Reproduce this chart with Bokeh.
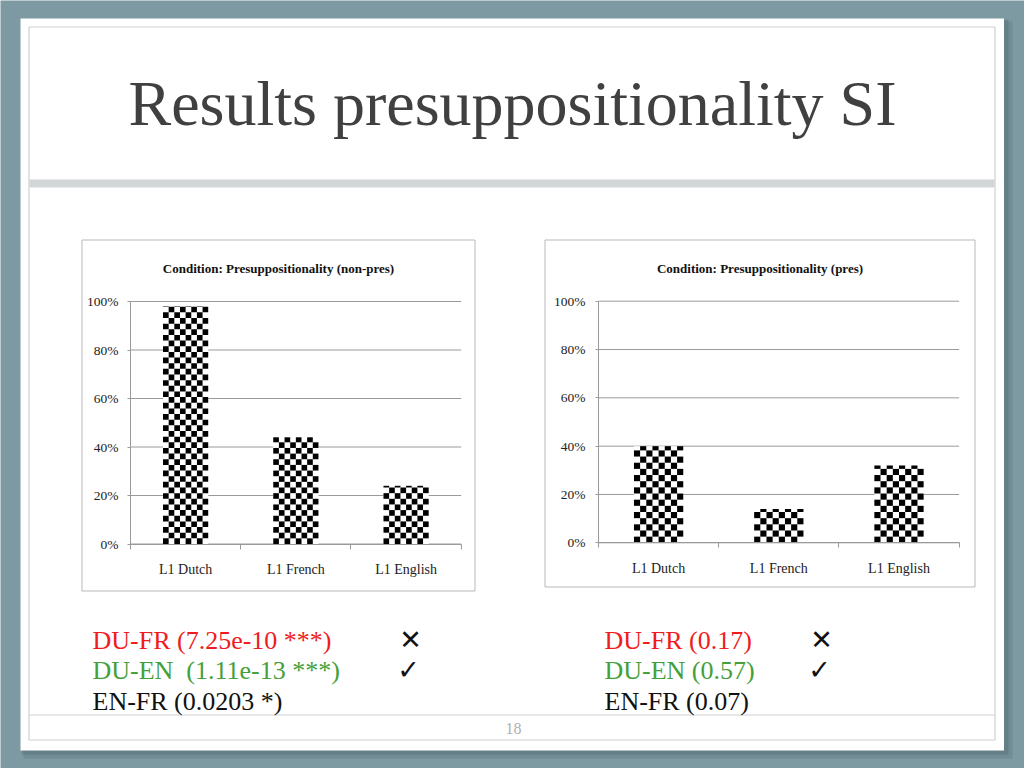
import math
from bokeh.plotting import figure
from bokeh.models import Range1d, LinearAxis, FixedTicker, NumeralTickFormatter
from bokeh.core.properties import value
from bokeh.embed import file_html
from bokeh.resources import INLINE

# ---------------- data ----------------
categories = ["L1 Dutch", "L1 French", "L1 English"]
non_pres = [0.98, 0.44, 0.24]
pres = [0.40, 0.14, 0.32]
y_ticks = [0.0, 0.2, 0.4, 0.6, 0.8, 1.0]
chart_titles = ["Condition: Presuppositionality (non-pres)", "Condition: Presuppositionality (pres)"]
slide_title = "Results presuppositionality SI"
left_notes = ["DU-FR (7.25e-10 ***)", "DU-EN\u00a0\u00a0(1.11e-13 ***)", "EN-FR (0.0203 *)"]
right_notes = ["DU-FR (0.17)", "DU-EN (0.57)", "EN-FR (0.07)"]
note_colors = ["#ee1c1c", "#46a03a", "#111111"]
marks = ["\u2715", "\u2713"]
page_number = "18"

# ---------------- styles ----------------
BG = "#7d99a1"
SERIF_NAME = "Liberation Serif"
SERIF = value(SERIF_NAME)
GRID = "#9a9a9a"

W, H = 1024, 768
OX, OY = 0, 0

p = figure(width=W, height=H, x_range=Range1d(OX, OX + W), y_range=Range1d(OY + H, OY),
           output_backend="svg", toolbar_location=None, x_axis_type=None, y_axis_type=None,
           min_border=0)
p.background_fill_color = BG
p.border_fill_color = BG
p.outline_line_color = None


def sub_range(v0, v1, p0, p1, f0, f1):
    k = (p1 - p0) / (v1 - v0)
    return Range1d(start=v0 + (f0 - p0) / k, end=v0 + (f1 - p0) / k)


# slide shadow + slide
p.quad(left=[23], right=[1012], top=[21], bottom=[758], fill_color="#4f6870", fill_alpha=0.25, line_color=None)
p.quad(left=[21], right=[1008], top=[19], bottom=[754], fill_color="#4f6870", fill_alpha=0.35, line_color=None)
p.quad(left=[20], right=[1003.5], top=[18], bottom=[750], fill_color="white", line_color=None)
p.quad(left=[28.5], right=[994.5], top=[26.5], bottom=[739.5], fill_color=None, line_color="#cfcfcf", line_width=1.2)
p.quad(left=[29], right=[994], top=[179], bottom=[187], fill_color="#d3d6d7", line_color=None)
p.segment(x0=[29], x1=[994], y0=[714.5], y1=[714.5], line_color="#cfcfcf", line_width=1.2)

p.text(x=[512], y=[103], text=[slide_title], text_font=SERIF, text_font_size="64px",
       text_color="#404040", text_align="center", text_baseline="middle")

# chart panels
p.quad(left=[81.5, 544.5], right=[474.5, 974.5], top=[239.5, 239.5], bottom=[590.5, 586.5],
       fill_color="white", line_color="#b9b9b9", line_width=1)

n = len(categories)
xs = [i + 1 for i in range(n)]
lo, hi = 0.5, n + 0.5
BAR_W = 0.41
NCOLS = 8

charts = [
    dict(key="c1", vals=non_pres, title=chart_titles[0], xp=(130, 460.7), yp=(543.5, 301), tpos=(278, 268), standoff=9),
    dict(key="c2", vals=pres, title=chart_titles[1], xp=(598, 958.6), yp=(542.3, 300.7), tpos=(759.5, 268), standoff=10),
]

p.extra_x_ranges = {c["key"] + "x": sub_range(lo, hi, c["xp"][0], c["xp"][1], OX, OX + W) for c in charts}
p.extra_y_ranges = {c["key"] + "y": sub_range(0, 1, c["yp"][0], c["yp"][1], OY + H, OY) for c in charts}

for c in charts:
    xr, yr = c["key"] + "x", c["key"] + "y"
    p.segment(x0=[lo] * len(y_ticks), x1=[hi] * len(y_ticks), y0=y_ticks, y1=y_ticks,
              line_color=GRID, line_width=1, x_range_name=xr, y_range_name=yr)
    p.vbar(x=xs, top=c["vals"], bottom=0, width=BAR_W, fill_color="white", line_color=None,
           x_range_name=xr, y_range_name=yr)

    # checkerboard fill of each bar (square cells)
    kx = (c["xp"][1] - c["xp"][0]) / (hi - lo)
    ky = (c["yp"][0] - c["yp"][1])
    cw = BAR_W / NCOLS
    ch = cw * kx / ky
    L, R, T, B = [], [], [], []
    for x, v in zip(xs, c["vals"]):
        rows = math.ceil(v / ch - 1e-9)
        for r in range(rows):
            y0 = r * ch
            y1 = min((r + 1) * ch, v)
            for col in range(NCOLS):
                if (r + col) % 2 == 0:
                    x0 = x - BAR_W / 2 + col * cw
                    L.append(x0); R.append(x0 + cw); B.append(y0); T.append(y1)
    p.quad(left=L, right=R, top=T, bottom=B, fill_color="black", line_color=None,
           x_range_name=xr, y_range_name=yr)

    yaxis = LinearAxis(x_range_name=xr, y_range_name=yr, fixed_location=lo, bounds=(0, 1),
                       ticker=FixedTicker(ticks=y_ticks), formatter=NumeralTickFormatter(format="0%"),
                       axis_line_color=GRID, major_tick_line_color=GRID, major_tick_out=3, major_tick_in=0,
                       minor_tick_out=0, minor_tick_in=0, major_label_standoff=c["standoff"],
                       major_label_text_font=SERIF_NAME, major_label_text_font_size="13.5px",
                       major_label_text_color="#222222")
    p.add_layout(yaxis, "left")

    xaxis = LinearAxis(x_range_name=xr, y_range_name=yr, fixed_location=0, bounds=(lo, hi),
                       ticker=FixedTicker(ticks=xs, minor_ticks=[x - 0.5 for x in xs] + [hi]),
                       major_label_overrides={x: cat for x, cat in zip(xs, categories)},
                       axis_line_color=GRID, major_tick_out=0, major_tick_in=0,
                       minor_tick_line_color=GRID, minor_tick_out=5, minor_tick_in=0,
                       major_label_standoff=13, major_label_text_font=SERIF_NAME,
                       major_label_text_font_size="14px", major_label_text_color="#222222")
    p.add_layout(xaxis, "below")

    p.text(x=[c["tpos"][0]], y=[c["tpos"][1]], text=[c["title"]], text_font=SERIF,
           text_font_style="bold", text_font_size="13px", text_color="#111111",
           text_align="center", text_baseline="middle")

# notes below charts
note_mid = [639.5, 670, 700.5]
p.text(x=[92] * 3, y=note_mid, text=left_notes, text_color=note_colors, text_font=SERIF,
       text_font_size="26px", text_align="left", text_baseline="middle")
p.text(x=[604] * 3, y=note_mid, text=right_notes, text_color=note_colors, text_font=SERIF,
       text_font_size="26px", text_align="left", text_baseline="middle")
p.text(x=[410, 408, 821, 819], y=[639, 669, 639, 669], text=marks + marks, text_color="#111111",
       text_font=value("DejaVu Sans"), text_font_style="bold", text_font_size="27px",
       text_align="center", text_baseline="middle")

p.text(x=[513], y=[727.5], text=[page_number], text_color="#b0b0b0", text_font=SERIF,
       text_font_size="16px", text_align="center", text_baseline="middle")

open("out.html", "w").write(file_html(p, INLINE))
